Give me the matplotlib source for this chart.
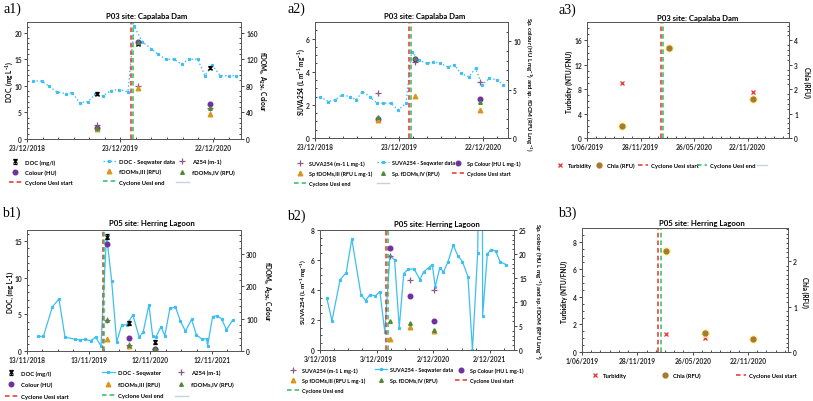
import matplotlib
matplotlib.use('Agg')
import matplotlib.pyplot as plt
import matplotlib.dates as mdates
from matplotlib.lines import Line2D
from matplotlib.ticker import MultipleLocator
import numpy as np
import pandas as pd

plt.rcParams['font.family'] = ['Lato', 'DejaVu Sans']
plt.rcParams['font.weight'] = 'bold'
plt.rcParams['mathtext.default'] = 'regular'

W, H = 813, 402

cyclone_start = '2020-02-04'
cyclone_end = '2020-02-13'

# ---- P03 Capalaba Dam ----
p03_seq_dates = ['2019-01-15', '2019-02-18', '2019-03-20', '2019-04-18', '2019-05-24',
                 '2019-06-19', '2019-07-17', '2019-08-18', '2019-09-17', '2019-10-16',
                 '2019-11-17', '2019-12-20', '2020-01-23', '2020-02-16', '2020-03-19',
                 '2020-04-22', '2020-05-20', '2020-06-20', '2020-07-21', '2020-08-20',
                 '2020-09-17', '2020-10-22', '2020-11-20', '2020-12-18', '2021-01-19',
                 '2021-02-23', '2021-03-21']
p03_doc_seq = [10.9, 10.9, 9.9, 8.9, 8.5, 8.7, 6.8, 7.0, 8.4, 8.1, 9.1, 9.3, 8.9,
               21.2, 18.3, 17.0, 15.9, 15.0, 15.0, 14.1, 15.0, 15.0, 11.9, 13.9, 11.9, 11.9, 11.9]
p03_suva_seq = [2.5, 2.2, 2.3, 2.6, 2.5, 2.3, 2.8, 2.5, 2.1, 2.1, 2.1, 1.7, 2.1,
                5.2, 4.7, 4.5, 4.6, 4.5, 4.3, 4.4, 3.9, 3.7, 4.2, 3.2, 3.6, 3.5, 3.2]

p03_dates = ['2019-09-25', '2020-03-02', '2020-12-11']
p03_doc = [8.5, 17.9, 13.4]
p03_doc_err = [0.3, 0.3, 0.3]
p03_a254 = [21, 80, 46]
p03_colour = [16, 146, 52]
p03_fdom3 = [15, 76, 37]
p03_fdom4 = [17, 146, 47]
p03_suva = [2.7, 4.6, 3.4]
p03_sp_colour = [2.0, 8.2, 4.0]
p03_sp_fdom3 = [1.9, 4.3, 2.9]
p03_sp_fdom4 = [2.15, 8.3, 3.7]
p03_turb = [9.0, 14.8, 7.5]
p03_chla = [0.48, 3.69, 1.61]

# ---- P05 Herring Lagoon ----
p05_seq_dates = ['2019-01-15', '2019-02-18', '2019-04-12', '2019-05-21', '2019-06-26',
                 '2019-08-24', '2019-09-23', '2019-10-22', '2019-11-25', '2019-12-24',
                 '2020-01-25', '2020-02-27', '2020-03-28', '2020-04-27', '2020-05-26',
                 '2020-06-25', '2020-08-01', '2020-09-07', '2020-10-01', '2020-11-04',
                 '2020-11-26', '2020-12-15', '2021-01-14', '2021-02-06', '2021-03-08',
                 '2021-04-10', '2021-05-09', '2021-06-08', '2021-07-14', '2021-08-12',
                 '2021-09-15', '2021-10-11', '2021-10-17', '2021-11-16', '2021-12-09',
                 '2022-01-08', '2022-02-06', '2022-03-14']
p05_doc_seq = [2.0, 2.0, 6.0, 7.1, 1.9, 1.6, 1.5, 1.6, 1.4, 1.9, 0.7, 15.8, 9.6, 1.2, 3.5,
               3.6, 4.9, 1.9, 2.6, 6.3, 2.0, 1.9, 3.3, 2.1, 5.8, 6.0, 4.1, 2.7, 4.3, 2.2,
               1.6, 1.7, 0.7, 4.7, 4.8, 4.4, 2.9, 4.2]
p05_suva_seq = [3.5, 1.95, 4.7, 5.15, 7.4, 3.7, 3.3, 3.7, 3.6, 3.9, 1.2, 6.3, 6.0, 1.5, 5.1,
                5.4, 5.4, 4.7, 5.2, 5.5, 5.7, 4.2, 5.5, 5.2, 5.9, 7.0, 6.3, 5.9, 4.9, 0.0,
                6.5, 30.0, 2.3, 6.4, 6.7, 6.6, 5.9, 5.7]

p05_dates = ['2020-03-01', '2020-07-06', '2020-12-08']
p05_doc = [15.6, 3.8, 1.2]
p05_doc_err = [0.35, 0.3, 0.3]
p05_a254 = [97, 20, 6]
p05_colour = [331, 41, 7]
p05_fdom3 = [36, 17, 4]
p05_fdom4 = [95, 19, 5]
p05_suva = [6.25, 4.7, 4.0]
p05_sp_colour = [21.3, 11.2, 6.0]
p05_sp_fdom3 = [2.3, 4.7, 4.0]
p05_sp_fdom4 = [6.0, 5.6, 4.2]
p05_turb = [1.3, 1.0, 1.05]
p05_chla = [2.22, 0.42, 0.28]

# colours
RED = '#E8302A'
GRN = '#2EBF5E'
SEQ = '#3DBFF2'
PLUS = '#8C5A86'
PURP = '#7030A0'
ORNG = '#D9961A'
DGRN = '#4E8A3A'
BRWN = '#A67A2C'
GLOW = '#FFF3A8'
BLANK = '#C5D3E3'

fig = plt.figure(figsize=(W / 100, H / 100), dpi=100)


def make_axes(l, t, r, b):
  ax = fig.add_axes([l / W, 1 - b / H, (r - l) / W, (b - t) / H])
  ax2 = ax.twinx()
  return ax, ax2


def dt(lst):
  return pd.to_datetime(lst)


def setup(ax, ax2, xlim, xticks, xminor, ylim, yticks, yminor, y2lim, y2ticks, y2minor):
  x0, x1 = mdates.date2num(dt(xlim))
  ax.set_xlim(x0, x1)
  tk = dt(xticks)
  ax.set_xticks(mdates.date2num(tk))
  ax.set_xticklabels([f'{t.day}/{t.month:02d}/{t.year}' for t in tk])
  ax.set_xticks(np.arange(x0, x1, xminor), minor=True)
  ax.set_ylim(*ylim)
  ax.set_yticks(yticks)
  ax.yaxis.set_minor_locator(MultipleLocator(yminor))
  ax2.set_ylim(*y2lim)
  ax2.set_yticks(y2ticks)
  ax2.yaxis.set_minor_locator(MultipleLocator(y2minor))
  for a in (ax, ax2):
    a.tick_params(which='major', length=2.5, width=0.6, labelsize=4.8, pad=1.2, colors='#262626')
    a.tick_params(which='minor', length=1.3, width=0.5, direction='in')
    for s in a.spines.values():
      s.set_color('#595959')
      s.set_linewidth(0.7)


def cyclone(ax):
  hs = ax.axvline(dt([cyclone_start])[0], color=RED, ls=(0, (3, 2)), lw=1.1)
  he = ax.axvline(dt([cyclone_end])[0], color=GRN, ls=(0, (3, 2)), lw=1.1)
  return hs, he


def texts(title, tpos, left, lpos, right, rpos, panel, ppos, fs_left=4.7, fs_right=4.7):
  fig.text(tpos[0] / W, 1 - tpos[1] / H, title, ha='center', va='center', fontsize=5.6)
  fig.text(lpos[0] / W, 1 - lpos[1] / H, left, ha='center', va='center', rotation=90,
           fontsize=fs_left)
  fig.text(rpos[0] / W, 1 - rpos[1] / H, right, ha='center', va='center', rotation=270,
           fontsize=fs_right)
  fig.text(ppos[0] / W, 1 - ppos[1] / H, panel, ha='left', va='center', fontsize=10,
           family='Liberation Serif', weight='normal')


def legend_cols(items, xs, y, ncol, fs=4.2, hl=2.2, sp=0.75):
  off = (hl + 0.6) * fs / 72 * 100
  for c in range(ncol):
    col = items[c::ncol]
    if not col:
      continue
    fig.legend([i[0] for i in col], [i[1] for i in col], loc='upper left',
               bbox_to_anchor=((xs[c] - off) / W, 1 - y / H), frameon=False, fontsize=fs,
               handlelength=hl, handletextpad=0.6, labelspacing=sp, borderpad=0,
               borderaxespad=0)


blank = Line2D([], [], color=BLANK, lw=1)

# ---------- a1 ----------
ax, ax2 = make_axes(27, 23, 241, 140)
h_seq, = ax.plot(dt(p03_seq_dates), p03_doc_seq, ls=':', color=SEQ, lw=1, marker='s', ms=1.3)
h_doc = ax.errorbar(dt(p03_dates), p03_doc, yerr=p03_doc_err, fmt='x', color='black', ms=3,
                    mew=0.9, capsize=1.5, elinewidth=0.6)
hs, he = cyclone(ax)
h_a, = ax2.plot(dt(p03_dates), p03_a254, '+', color=PLUS, ms=4, mew=0.9)
h_c, = ax2.plot(dt(p03_dates), p03_colour, 'o', color=PURP, ms=3.3)
h_f3, = ax2.plot(dt(p03_dates), p03_fdom3, '^', color=ORNG, ms=3.3)
h_f4, = ax2.plot(dt(p03_dates), p03_fdom4, '^', color=DGRN, ms=2.6)
setup(ax, ax2, ['2018-12-23', '2021-04-10'], ['2018-12-23', '2019-12-23', '2020-12-22'], 61,
      (0, 22), [0, 5, 10, 15, 20], 1, (0, 176), [0, 40, 80, 120, 160], 8)
texts('P03 site: Capalaba Dam', (147, 17), 'DOC, (mg L$^{-1}$)', (9, 82),
      'fDOM$_s$, A$_{254}$, Colour', (262, 82), 'a1)', (3, 9))
legend_cols([(h_doc, 'DOC (mg/l)'), (h_seq, 'DOC - Seqwater data'), (h_a, 'A254 (m-1)'),
             (h_c, 'Colour (HU)'), (h_f3, 'fDOMs,III (RFU)'), (h_f4, 'fDOMs,IV (RFU)'),
             (hs, 'Cyclone Uesi start'), (he, 'Cyclone Uesi end'), (blank, '')],
            [25, 119, 192], 160, 3, sp=0.85)

# ---------- a2 ----------
ax, ax2 = make_axes(315, 23, 508, 139)
h_seq, = ax.plot(dt(p03_seq_dates), p03_suva_seq, ls=':', color=SEQ, lw=1, marker='s', ms=1.3)
h_s, = ax.plot(dt(p03_dates), p03_suva, '+', color=PLUS, ms=4, mew=0.9)
hs, he = cyclone(ax)
h_c, = ax2.plot(dt(p03_dates), p03_sp_colour, 'o', color=PURP, ms=3.3)
h_f3, = ax2.plot(dt(p03_dates), p03_sp_fdom3, '^', color=ORNG, ms=3.3)
h_f4, = ax2.plot(dt(p03_dates), p03_sp_fdom4, '^', color=DGRN, ms=2.6)
setup(ax, ax2, ['2018-12-23', '2021-04-10'], ['2018-12-23', '2019-12-23', '2020-12-22'], 61,
      (0, 7), [0, 2, 4, 6], 0.5, (0, 12), [0, 5, 10], 1)
texts('P03 site: Capalaba Dam', (425, 17), 'SUVA254 (L m$^{-1}$ mg$^{-1}$)', (301, 82),
      'Sp. colour (HU L mg$^{-1}$) and sp. fDOM (RFU Lmg$^{-1}$)', (528, 84), 'a2)', (288, 9),
      fs_right=4.3)
legend_cols([(h_s, 'SUVA254 (m-1 L mg-1)'), (h_seq, 'SUVA254 - Seqwater data'),
             (h_c, 'Sp Colour (HU L mg-1)'), (h_f3, 'Sp fDOMs,III (RFU L mg-1)'),
             (h_f4, 'Sp. fDOMs,IV (RFU)'), (hs, 'Cyclone Uesi start'),
             (he, 'Cyclone Uesi end'), (blank, '')],
            [309, 392, 467], 161, 3, fs=3.9, sp=0.95)

# ---------- a3 ----------
ax, ax2 = make_axes(587, 23, 789, 139)
ax.axhline(0, color=GRN, ls=(0, (1, 3)), lw=1)
hs, he = cyclone(ax)
h_t, = ax.plot(dt(p03_dates), p03_turb, 'x', color=RED, ms=3.5, mew=0.9)
ax2.plot(dt(p03_dates), p03_chla, 'o', color=GLOW, ms=5.5, alpha=0.8)
h_ch, = ax2.plot(dt(p03_dates), p03_chla, 'o', color=BRWN, ms=3.5)
setup(ax, ax2, ['2019-06-01', '2021-04-10'],
      ['2019-06-01', '2019-11-28', '2020-05-26', '2020-11-22'], 30,
      (0, 19), [0, 4, 8, 12, 16], 1, (0, 4.75), [0, 1, 2, 3, 4], 0.2)
texts('P03 site: Capalaba Dam', (698, 18), 'Turbidity (NTU/FNU)', (569, 82),
      'Chla (RFU)', (807, 82), 'a3)', (558, 10))
legend_cols([(h_t, 'Turbidity'), (h_ch, 'Chla (RFU)'), (hs, 'Cyclone Uesi start'),
             (he, 'Cyclone Uesi end'), (blank, '')],
            [568, 607, 651, 710, 770], 164, 5, hl=1.6)

# ---------- b1 ----------
ax, ax2 = make_axes(27, 231, 241, 352)
h_seq, = ax.plot(dt(p05_seq_dates), p05_doc_seq, '-', color=SEQ, lw=0.9, marker='s', ms=1.3)
h_doc = ax.errorbar(dt(p05_dates), p05_doc, yerr=p05_doc_err, fmt='x', color='black', ms=3,
                    mew=0.9, capsize=1.5, elinewidth=0.6)
hs, he = cyclone(ax)
h_a, = ax2.plot(dt(p05_dates), p05_a254, '+', color=PLUS, ms=4, mew=0.9)
h_c, = ax2.plot(dt(p05_dates), p05_colour, 'o', color=PURP, ms=3.3)
h_f3, = ax2.plot(dt(p05_dates), p05_fdom3, '^', color=ORNG, ms=3.3)
h_f4, = ax2.plot(dt(p05_dates), p05_fdom4, '^', color=DGRN, ms=2.6)
setup(ax, ax2, ['2018-11-13', '2022-05-03'],
      ['2018-11-13', '2019-11-13', '2020-11-12', '2021-11-12'], 91.25,
      (0, 16.5), [0, 5, 10, 15], 1, (0, 375), [0, 100, 200, 300], 20)
texts('P05 site: Herring Lagoon', (152, 224), 'DOC, (mg L-1)', (10, 292),
      'fDOM$_s$, A$_{254}$, Colour', (267, 292), 'b1)', (2, 213))
legend_cols([(h_doc, 'DOC (mg/l)'), (h_seq, 'DOC - Seqwater'), (h_a, 'A254 (m-1)'),
             (h_c, 'Colour (HU)'), (h_f3, 'fDOMs,III (RFU)'), (h_f4, 'fDOMs,IV (RFU)'),
             (hs, 'Cyclone Uesi start'), (he, 'Cyclone Uesi end'), (blank, '')],
            [21, 118, 191], 371, 3, sp=1.1)

# ---------- b2 ----------
ax, ax2 = make_axes(320, 231, 514, 351)
h_seq, = ax.plot(dt(p05_seq_dates), p05_suva_seq, '-', color=SEQ, lw=0.9, marker='s', ms=1.3)
h_s, = ax.plot(dt(p05_dates), p05_suva, '+', color=PLUS, ms=4, mew=0.9)
hs, he = cyclone(ax)
h_c, = ax2.plot(dt(p05_dates), p05_sp_colour, 'o', color=PURP, ms=3.3)
h_f3, = ax2.plot(dt(p05_dates), p05_sp_fdom3, '^', color=ORNG, ms=3.3)
h_f4, = ax2.plot(dt(p05_dates), p05_sp_fdom4, '^', color=DGRN, ms=2.6)
setup(ax, ax2, ['2018-12-03', '2022-05-07'],
      ['2018-12-03', '2019-12-03', '2020-12-02', '2021-12-02'], 91.25,
      (0, 8), [0, 2, 4, 6, 8], 0.5, (0, 25), [0, 5, 10, 15, 20, 25], 1)
texts('P05 site: Herring Lagoon', (437, 225), 'SUVA254 (L m$^{-1}$ mg$^{-1}$)', (304, 292),
      'Sp. colour (HU L mg$^{-1}$) and sp. fDOM (RFU Lmg$^{-1}$)', (537, 292), 'b2)', (287, 216),
      fs_left=4.6, fs_right=4.4)
legend_cols([(h_s, 'SUVA254 (m-1 L mg-1)'), (h_seq, 'SUVA254 - Seqwater data'),
             (h_c, 'Sp Colour (HU L mg-1)'), (h_f3, 'Sp fDOMs,III (RFU L mg-1)'),
             (h_f4, 'Sp. fDOMs,IV (RFU)'), (hs, 'Cyclone Uesi start'),
             (he, 'Cyclone Uesi end')],
            [302, 390, 470], 368, 3, fs=3.9, sp=0.95)

# ---------- b3 ----------
ax, ax2 = make_axes(582, 229, 788, 353)
ax.axhline(0, color=GRN, ls=(0, (1, 3)), lw=1)
hs, he = cyclone(ax)
h_t, = ax.plot(dt(p05_dates), p05_turb, 'x', color=RED, ms=3.5, mew=0.9)
ax2.plot(dt(p05_dates), p05_chla, 'o', color=GLOW, ms=5.5, alpha=0.8)
h_ch, = ax2.plot(dt(p05_dates), p05_chla, 'o', color=BRWN, ms=3.5)
setup(ax, ax2, ['2019-06-01', '2021-04-01'],
      ['2019-06-01', '2019-11-28', '2020-05-26', '2020-11-22'], 30,
      (0, 9), [0, 2, 4, 6, 8], 0.5, (0, 2.73), [0, 1, 2], 0.1)
texts('P05 site: Herring Lagoon', (702, 224), 'Turbidity (NTU/FNU)', (564, 292),
      'Chla (RFU)', (805, 292), 'b3)', (558, 213))
legend_cols([(h_t, 'Turbidity'), (h_ch, 'Chla (RFU)'), (hs, 'Cyclone Uesi start')],
            [603, 673, 749], 374, 3, hl=1.6)

fig.savefig('out.png', dpi=100)
